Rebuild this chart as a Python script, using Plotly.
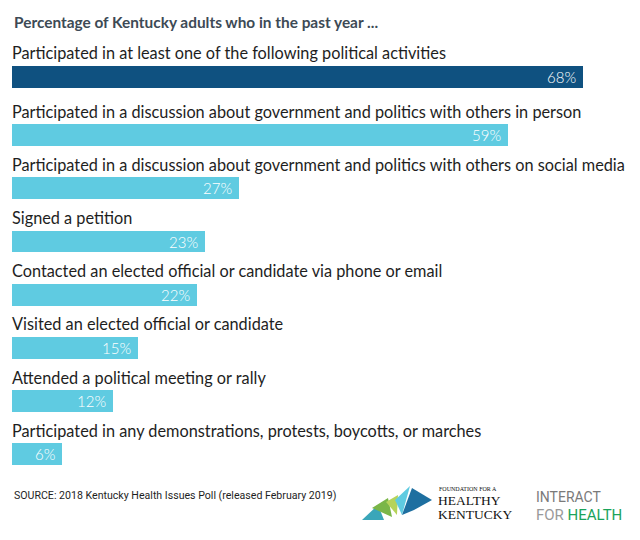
import plotly.graph_objects as go

# survey items, top to bottom
activities = [
    "Participated in at least one of the following political activities",
    "Participated in a discussion about government and politics with others in person",
    "Participated in a discussion about government and politics with others on social media",
    "Signed a petition",
    "Contacted an elected official or candidate via phone or email",
    "Visited an elected official or candidate",
    "Attended a political meeting or rally",
    "Participated in any demonstrations, protests, boycotts, or marches",
]
percents = [68, 59, 27, 23, 22, 15, 12, 6]

DARK = "#0f5180"
LIGHT = "#5fcbe1"
TEXT = "#1e1e1e"
FONT = "Lato"

# page body has an 8px margin, so work in screen pixels minus that
OFF = 8
W, H = 640, 540
ML, MR, MT, MB = 12 - OFF, 0, 50.4 - OFF, 66.9
pw, ph = W - ML - MR, H - MT - MB


def px_x(v):
    return (v - OFF - ML) / pw


def px_y(v):
    return 1 - (v - OFF - MT) / ph


# the summary row gets a little extra room below it
rows = [0] + [i + 0.1 for i in range(1, len(activities))]
colors = [DARK] + [LIGHT] * (len(percents) - 1)

fig = go.Figure()
fig.add_trace(go.Bar(
    x=percents,
    y=rows,
    orientation="h",
    marker=dict(color=colors, line=dict(width=0)),
    width=0.41,
    hoverinfo="skip",
))

for r, act, p in zip(rows, activities, percents):
    # category label above the bar
    fig.add_annotation(
        x=0, y=r, xref="x", yref="y",
        text=act, showarrow=False,
        xanchor="left", yanchor="middle", yshift=24, xshift=-2,
        font=dict(size=16.3, color=TEXT, family=FONT),
    )
    # value at the end of the bar
    fig.add_annotation(
        x=p, y=r, xref="x", yref="y",
        text=f"{p}%", showarrow=False,
        xanchor="right", yanchor="middle", xshift=-5,
        font=dict(size=15, color="white", family=FONT, weight=300),
    )


def note(x, y, text, size, color, family, bold=False):
    fig.add_annotation(
        x=px_x(x), y=px_y(y), xref="paper", yref="paper",
        text=f"<b>{text}</b>" if bold else text, showarrow=False,
        xanchor="left", yanchor="middle",
        font=dict(size=size, color=color, family=family),
    )


note(12, 22, "Percentage of Kentucky adults who in the past year ...", 15.4, "#3d4a55", FONT, bold=True)
note(12, 496, "SOURCE: 2018 Kentucky Health Issues Poll (released February 2019)", 10.6, TEXT, "Roboto")

# rough logo shapes
logo = [
    ([(362, 520), (378, 505), (384, 520)], "#3aa6b9"),
    ([(372, 508), (388, 498), (392, 517)], "#7ab648"),
    ([(386, 502), (398, 495), (397, 515)], "#b6d35a"),
    ([(395, 500), (410, 486), (402, 515)], "#5fcbe1"),
    ([(402, 515), (412, 488), (432, 500), (414, 510)], "#1e6fa0"),
]
for pts, c in logo:
    path = "M " + " L ".join(f"{px_x(a):.4f} {px_y(b):.4f}" for a, b in pts) + " Z"
    fig.add_shape(type="path", path=path, xref="paper", yref="paper",
                  fillcolor=c, line=dict(width=0), layer="above")

note(437, 489, "FOUNDATION FOR A", 6, "#111", "Liberation Serif")
note(436, 501, "HEALTHY", 13.5, "#111", "Liberation Serif")
note(436, 515, "KENTUCKY", 13.5, "#111", "Liberation Serif")
note(534, 497, "INTERACT", 14, "#7a7a7a", "Roboto")
note(534, 515, "FOR <span style='color:#1aa35a'>HEALTH</span>", 15, "#9a9a9a", "Roboto")

fig.update_layout(
    width=W, height=H,
    margin=dict(l=ML, r=MR, t=MT, b=MB),
    plot_bgcolor="white", paper_bgcolor="white",
    showlegend=False,
    xaxis=dict(range=[0, pw / 8.4], visible=False, fixedrange=True),
    yaxis=dict(range=[rows[-1] + 0.5, -0.5], visible=False, fixedrange=True),
    bargap=0,
)

fig.write_html("out.html")
